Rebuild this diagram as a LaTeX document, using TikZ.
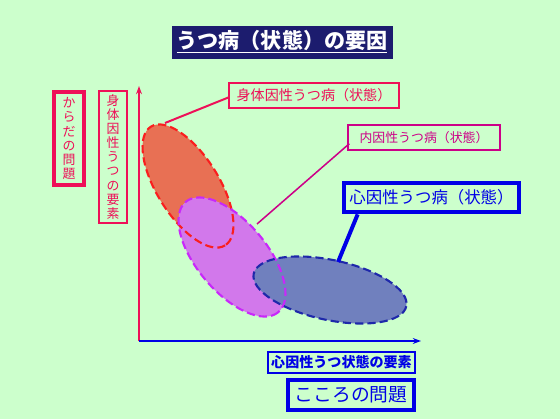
\documentclass[tikz,border=0pt]{standalone}
\usepackage{fontspec}
\setmainfont{Noto Sans CJK JP}
\usepackage{tikz}
\usetikzlibrary{arrows.meta}

\definecolor{bggreen}{RGB}{204,255,204}
\definecolor{navy}{RGB}{28,28,110}
\definecolor{bodyred}{RGB}{238,16,88}
\definecolor{innermag}{RGB}{204,0,136}
\definecolor{mindblue}{RGB}{0,0,230}
\definecolor{redfill}{RGB}{232,112,84}
\definecolor{magfill}{RGB}{210,120,235}
\definecolor{bluefill}{RGB}{112,128,190}
\definecolor{redline}{RGB}{250,30,30}
\definecolor{magline}{RGB}{200,40,250}
\definecolor{blueline}{RGB}{30,40,170}

\tikzset{
  lbl/.style={draw,inner sep=0pt,align=center},
  thinbox/.style={lbl,line width=1.2pt},
  thickbox/.style={lbl,line width=3.4pt},
  zone/.style={line width=1.8pt,dash pattern=on 7pt off 3.5pt},
}

\begin{document}
\begin{tikzpicture}[x=0.03cm,y=-0.03cm,>={Stealth[length=7pt,width=5pt]}]
    \fill[bggreen] (0,0) rectangle (560,419);
    \useasboundingbox (0,0) rectangle (560,419);

    % title
    \node[lbl,fill=navy,draw=navy,text=white,minimum width=6.6cm,minimum height=0.96cm,
          font=\fontsize{18}{20}\selectfont\bfseries] (title) at (282,42) {\underline{うつ病（状態）の要因}};

    % axes
    \coordinate (origin) at (139,341);
    \coordinate (ytop)   at (139,86);
    \coordinate (xend)   at (421,341);
    \draw[->,bodyred,line width=1.7pt] (origin) -- (ytop);
    \draw[->,mindblue,line width=1.7pt] (origin) -- (xend);

    % axis labels
    \node[thickbox,draw=bodyred,text=bodyred,minimum width=0.9cm,minimum height=2.8cm,
          font=\fontsize{11}{12}\selectfont] (body) at (69,138.5) {か\\ら\\だ\\の\\問\\題};
    \node[thinbox,draw=bodyred,text=bodyred,minimum width=0.84cm,minimum height=3.96cm,
          font=\fontsize{11}{12}\selectfont] (bodyelem) at (113,157) {身\\体\\因\\性\\う\\つ\\の\\要\\素};
    \node[thinbox,draw=mindblue,text=mindblue,minimum width=4.41cm,minimum height=0.63cm,
          font=\fontsize{12}{14}\selectfont\bfseries] (mindelem) at (341.5,362.5) {心因性うつ状態の要素};
    \node[thickbox,draw=mindblue,text=mindblue,minimum width=3.8cm,minimum height=0.92cm,
          font=\fontsize{16}{18}\selectfont] (mind) at (351,395) {こころの問題};

    % zones
    \fill[redfill,shift={(188,186)},rotate=-58] (0,0) ellipse [x radius=70,y radius=31];
    \fill[magfill,shift={(232,257)},rotate=-50] (0,0) ellipse [x radius=72,y radius=35];
    \fill[bluefill,shift={(330,290)},rotate=-12] (0,0) ellipse [x radius=78,y radius=30];
    \draw[zone,redline,shift={(188,186)},rotate=-58] (0,0) ellipse [x radius=70,y radius=31];
    \draw[zone,magline,shift={(232,257)},rotate=-50] (0,0) ellipse [x radius=72,y radius=35];
    \draw[zone,blueline,shift={(330,290)},rotate=-12] (0,0) ellipse [x radius=78,y radius=30];

    \coordinate (somtip) at (165,123);
    \coordinate (endtip) at (257,224);
    \coordinate (psytip) at (338,262);

    % zone labels
    \node[thinbox,draw=bodyred,text=bodyred,minimum width=5.1cm,minimum height=0.75cm,
          font=\fontsize{12}{14}\selectfont] (somatic) at (314,95.5) {身体因性うつ病（状態）};
    \node[thinbox,draw=innermag,text=innermag,minimum width=4.56cm,minimum height=0.75cm,
          font=\fontsize{11}{13}\selectfont] (endogen) at (424,137.5) {内因性うつ病（状態）};
    \node[thickbox,draw=mindblue,text=mindblue,minimum width=5.27cm,minimum height=0.89cm,
          font=\fontsize{14}{16}\selectfont] (psycho) at (431.5,197.5) {心因性うつ病（状態）};

    \draw[bodyred,line width=1.7pt] (somatic.west) ++(0,2) -- (somtip);
    \draw[innermag,line width=1.3pt] (endogen.south west) ++(2,-7) -- (endtip);
    \draw[mindblue,line width=3.4pt] (psycho.south west) ++(16,0) -- (psytip);
\end{tikzpicture}
\end{document}
